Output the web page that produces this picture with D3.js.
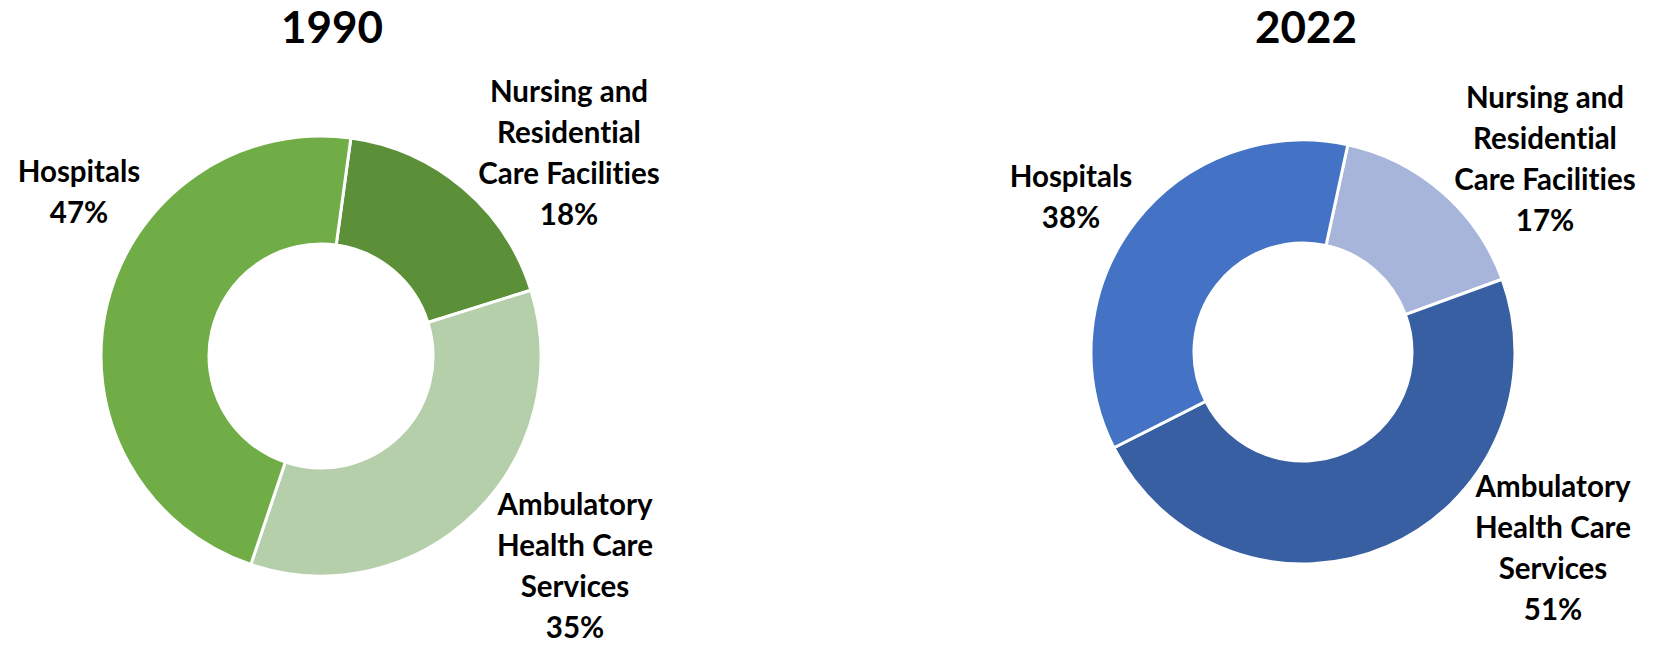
<!DOCTYPE html>
<html>
<head>
<meta charset="utf-8">
<script src="https://cdn.jsdelivr.net/npm/d3@7"></script>
<style>
  html, body { margin: 0; padding: 0; background: #ffffff; }
  svg { display: block; }
  text { font-family: Lato, "Open Sans", sans-serif; font-weight: 700; fill: #000;
         font-variant-ligatures: none; font-feature-settings: "liga" 0, "clig" 0; }
</style>
</head>
<body>
<svg id="chart" width="1665" height="646"></svg>
<script>
// ---- data ----
const years = ["1990", "2022"];
const categories = ["Nursing and Residential Care Facilities", "Ambulatory Health Care Services", "Hospitals"];
const labelLines = [
  ["Nursing and", "Residential", "Care Facilities"],
  ["Ambulatory", "Health Care", "Services"],
  ["Hospitals"]
];
const values1990 = [18, 35, 47];
const values2022 = [17, 51, 38];
const colors1990 = ["#5B9039", "#B4CFA9", "#70AD47"];
const colors2022 = ["#A8B5DB", "#375FA1", "#4472C4"];

// ---- layout ----
const charts = [
  { year: years[0], values: values1990, colors: colors1990, cx: 321, cy: 356, r: 220, ir: 112, start: 7.8,
    titleX: 332,
    labels: [ { x: 569, y: 102 }, { x: 575, y: 515 }, { x: 79, y: 182 } ] },
  { year: years[1], values: values2022, colors: colors2022, cx: 1303, cy: 352, r: 212, ir: 109, start: 12.2,
    titleX: 1306,
    labels: [ { x: 1545, y: 108 }, { x: 1553, y: 497 }, { x: 1071, y: 187 } ] }
];

const svg = d3.select("#chart");
const lineH = 41;
const labelSize = 29.5;

charts.forEach(c => {
  const pie = d3.pie().sort(null).value(d => d)
    .startAngle(c.start * Math.PI / 180)
    .endAngle(c.start * Math.PI / 180 + 2 * Math.PI);
  const arc = d3.arc().innerRadius(c.ir).outerRadius(c.r);
  const g = svg.append("g").attr("transform", `translate(${c.cx},${c.cy})`);
  const arcs = pie(c.values);
  g.selectAll("path").data(arcs).join("path")
    .attr("d", arc)
    .attr("fill", (d, i) => c.colors[i])
    .attr("stroke", "#ffffff")
    .attr("stroke-width", 3)
    .attr("stroke-linejoin", "miter");

  svg.append("text")
    .attr("x", c.titleX).attr("y", 43)
    .attr("text-anchor", "middle")
    .style("font-size", "44px")
    .text(c.year);

  categories.forEach((cat, i) => {
    const lines = labelLines[i].concat([c.values[i] + "%"]);
    const t = svg.append("text")
      .attr("text-anchor", "middle")
      .style("font-size", labelSize + "px");
    lines.forEach((ln, k) => {
      t.append("tspan")
        .attr("x", c.labels[i].x)
        .attr("y", c.labels[i].y + k * lineH)
        .text(ln);
    });
  });
});
</script>
</body>
</html>
